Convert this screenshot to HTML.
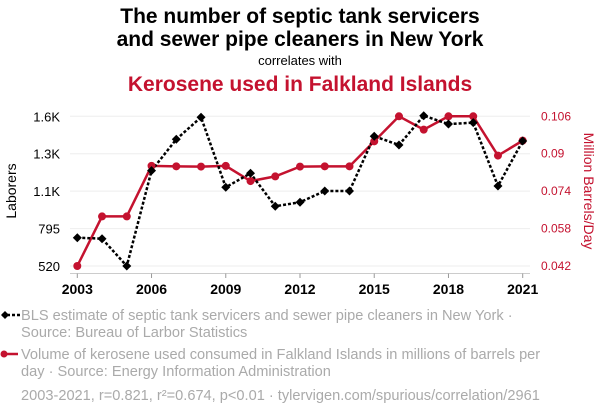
<!DOCTYPE html>
<html><head><meta charset="utf-8"><style>
body{margin:0;background:#fff;}
svg{display:block;font-family:"Liberation Sans",sans-serif;}
</style></head><body>
<svg id="chart" width="600" height="414">
<text x="300" y="23" text-anchor="middle" font-size="21" font-weight="bold" fill="#000">The number of septic tank servicers</text>
<text x="300" y="46" text-anchor="middle" font-size="21" font-weight="bold" fill="#000">and sewer pipe cleaners in New York</text>
<text x="300" y="65" text-anchor="middle" font-size="13" fill="#000">correlates with</text>
<text x="300" y="91" text-anchor="middle" font-size="21" font-weight="bold" fill="#c4122f">Kerosene used in Falkland Islands</text>
<g id="grid"></g><g id="axes"></g><g id="series"></g>
<text transform="translate(16,191) rotate(-90)" text-anchor="middle" font-size="14" fill="#000">Laborers</text>
<text transform="translate(584,191) rotate(90)" text-anchor="middle" font-size="14" fill="#c4122f">Million Barrels/Day</text>
<g>
<line x1="2" y1="315" x2="20" y2="315" stroke="#000" stroke-width="2.5" stroke-dasharray="3,2"/>
<path d="M5 311 L9 315 L5 319 L1 315Z" fill="#000"/>
<text x="21" y="320" font-size="14.6" fill="#aaa">BLS estimate of septic tank servicers and sewer pipe cleaners in New York ·</text>
<text x="21" y="337" font-size="14.6" fill="#aaa">Source: Bureau of Larbor Statistics</text>
</g>
<g>
<line x1="2" y1="354" x2="18" y2="354" stroke="#c4122f" stroke-width="2.5"/>
<circle cx="4" cy="354" r="3.5" fill="#c4122f"/>
<text x="21" y="359" font-size="14.6" fill="#aaa">Volume of kerosene used consumed in Falkland Islands in millions of barrels per</text>
<text x="21" y="376" font-size="14.6" fill="#aaa">day · Source: Energy Information Administration</text>
</g>
<text x="21" y="400" font-size="14.6" fill="#aaa">2003-2021, r=0.821, r²=0.674, p&lt;0.01 · tylervigen.com/spurious/correlation/2961</text>
</svg>
<script>
const years=[2003,2004,2005,2006,2007,2008,2009,2010,2011,2012,2013,2014,2015,2016,2017,2018,2019,2020,2021];
const laborers=[724,717,520,1208,1434,1593,1088,1189,951,980,1061,1061,1456,1393,1604,1544,1554,1097,1422];
const kerosene=[0.042,0.0632,0.0632,0.0848,0.0846,0.0845,0.0848,0.0783,0.0803,0.0845,0.0846,0.0846,0.0953,0.106,0.1003,0.106,0.106,0.0892,0.0956];
const leftTicks=[520,790,1060,1330,1600];
const leftLabels=["520","795","1.1K","1.3K","1.6K"];
const rightTicks=[0.042,0.058,0.074,0.09,0.106];
const rightLabels=["0.042","0.058","0.074","0.09","0.106"];
const xTicks=[2003,2006,2009,2012,2015,2018,2021];
const NS="http://www.w3.org/2000/svg";
const X0=77.3,X1=522.7,YB=266,YT=116.3;
const xs=y=>X0+(y-2003)/(2021-2003)*(X1-X0);
const yl=v=>YB-(v-520)/(1600-520)*(YB-YT);
const yr=v=>YB-(v-0.042)/(0.106-0.042)*(YB-YT);
function mk(tag,attrs,parent,text){const e=document.createElementNS(NS,tag);for(const k in attrs)e.setAttribute(k,attrs[k]);if(text!==undefined)e.textContent=text;document.getElementById(parent).appendChild(e);return e;}
leftTicks.forEach((t,i)=>{
 const g=mk('line',{x1:70,x2:530,y1:yl(t),y2:yl(t),stroke:'#eee','stroke-width':1},'grid');
 
 
 const l=mk('text',{x:60,y:yl(t)+5,'text-anchor':'end','font-size':13,fill:'#000'},'axes',leftLabels[i]);
 
 
});
rightTicks.forEach((t,i)=>{
 const l=mk('text',{x:541,y:yr(t)+4,'font-size':12,fill:'#c4122f'},'axes',rightLabels[i]);
 
 
});
const ax=mk('line',{x1:70,x2:530,y1:273.5,y2:273.5,stroke:'#ccc'},'axes');


xTicks.forEach(t=>{
 mk('line',{x1:xs(t),x2:xs(t),y1:273.5,y2:278,stroke:'#999'},'axes');
 const l=mk('text',{x:xs(t),y:294,'text-anchor':'middle','font-size':14,'font-weight':'bold',fill:'#000'},'axes',String(t));
 
 
});
const rl=mk('polyline',{points:years.map((y,i)=>xs(y)+','+yr(kerosene[i])).join(' '),fill:'none',stroke:'#c4122f','stroke-width':2.5},'series');


const bl=mk('polyline',{points:years.map((y,i)=>xs(y)+','+yl(laborers[i])).join(' '),fill:'none',stroke:'#000','stroke-width':2.5,'stroke-dasharray':'3,2'},'series');


years.forEach((y,i)=>{
 const c=mk('circle',{cx:xs(y),cy:yr(kerosene[i]),r:4,fill:'#c4122f'},'series');
 
 
 const x=xs(y),v=yl(laborers[i]);
 const d=mk('path',{d:`M${x} ${v-4.5} L${x+4.5} ${v} L${x} ${v+4.5} L${x-4.5} ${v}Z`,fill:'#000'},'series');
 
 
});
</script>
</body></html>
